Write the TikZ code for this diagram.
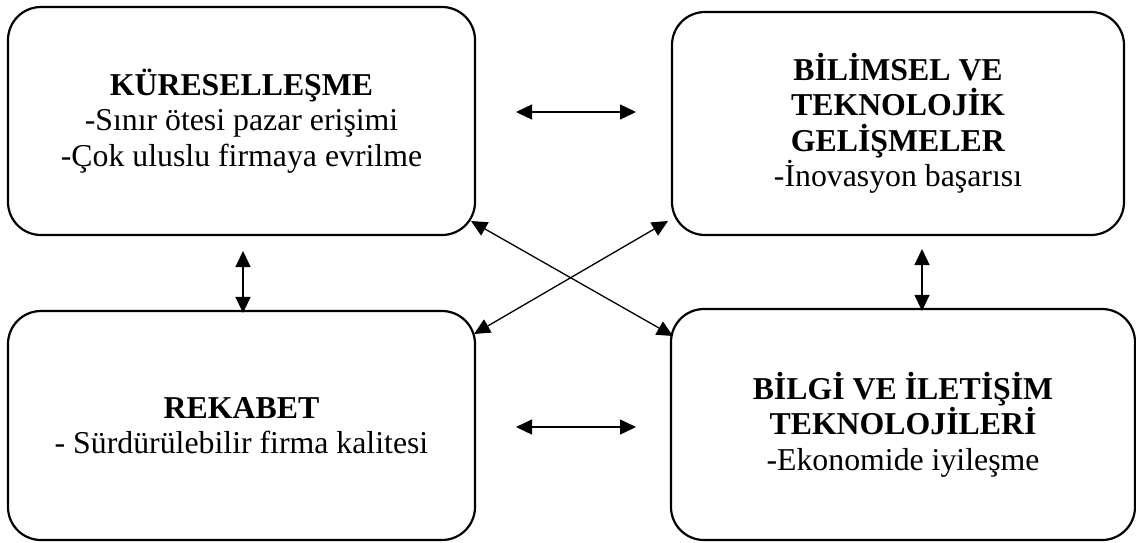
\documentclass[tikz,border=0pt]{standalone}
\usepackage{fontspec}
\setmainfont{Liberation Serif}
\usetikzlibrary{arrows.meta}
\tikzset{
  factor/.style={draw, line width=2.2pt, rounded corners=33pt, inner sep=0pt,
    align=center, font=\fontsize{31.8}{35.5}\selectfont},
  arr/.style={line width=1.3pt, {Triangle[length=16pt,width=15pt]}-{Triangle[length=16pt,width=15pt]}},
}
\begin{document}
\begin{tikzpicture}[x=1pt,y=-1pt]
  \fill[white] (0,0) rectangle (1136,542);
  \useasboundingbox (0,0) rectangle (1136,542);

  % four factor boxes
  \node[factor, minimum width=467pt, minimum height=228pt] (glob) at (241.5,121)
    {\textbf{KÜRESELLEŞME}\\-Sınır ötesi pazar erişimi\\-Çok uluslu firmaya evrilme};
  \node[factor, minimum width=452pt, minimum height=223pt] (sci) at (898,123.5)
    {\textbf{BİLİMSEL VE}\\\textbf{TEKNOLOJİK}\\\textbf{GELİŞMELER}\\-İnovasyon başarısı};
  \node[factor, minimum width=467pt, minimum height=229pt] (comp) at (241.5,425.5)
    {\textbf{REKABET}\\- Sürdürülebilir firma kalitesi};
  \node[factor, minimum width=464pt, minimum height=231pt] (ict) at (903,424.5)
    {\textbf{BİLGİ VE İLETİŞİM}\\\textbf{TEKNOLOJİLERİ}\\-Ekonomide iyileşme};

  % free ends of the connectors
  \coordinate (h1a) at (516,112);
  \coordinate (h1b) at (636,112);
  \coordinate (h2a) at (516,427);
  \coordinate (h2b) at (636,427);
  \coordinate (v1) at (243,251);
  \coordinate (v2) at (922,249);
  \coordinate (d1a) at (471,221);
  \coordinate (d1b) at (673,336);
  \coordinate (d2a) at (668,221);
  \coordinate (d2b) at (474,334);

  % connectors
  \draw[arr] (h1a) -- (h1b);
  \draw[arr] (h2a) -- (h2b);
  \draw[arr, shorten >=-3pt] (v1) -- (v1 |- comp.north);
  \draw[arr, shorten >=-3pt] (v2) -- (v2 |- ict.north);
  \draw[arr] (d1a) -- (d1b);
  \draw[arr] (d2a) -- (d2b);
\end{tikzpicture}
\end{document}
